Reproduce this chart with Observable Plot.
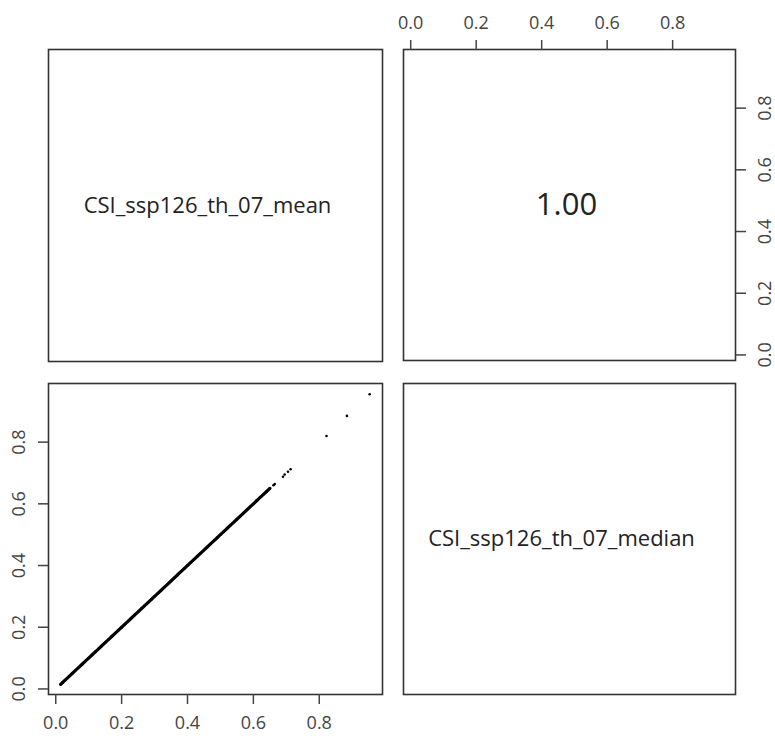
<!DOCTYPE html>
<html><head><meta charset="utf-8">
<script src="https://cdn.jsdelivr.net/npm/d3@7"></script>
<script src="https://cdn.jsdelivr.net/npm/@observablehq/plot@0.6"></script>
<style>
body{margin:0;background:#fff;}
#wrap{position:relative;width:775px;height:736px;}
#wrap svg{position:absolute;left:0;top:0;}
</style></head><body><div id="wrap"></div>
<script>
// variable names (diagonal panels)
const varNames = ["CSI_ssp126_th_07_mean", "CSI_ssp126_th_07_median"];
// correlation shown in upper panel
const corrText = "1.00";
// axis tick values
const tickValues = [0, 0.2, 0.4, 0.6, 0.8];
// scatter values (mean vs median)
const meanValues = [
  0.015, 0.02, 0.03, 0.04, 0.05, 0.06, 0.07, 0.08, 0.09, 0.10,
  0.11, 0.12, 0.13, 0.14, 0.15, 0.16, 0.17, 0.18, 0.19, 0.20,
  0.21, 0.22, 0.23, 0.24, 0.25, 0.26, 0.27, 0.28, 0.29, 0.30,
  0.31, 0.32, 0.33, 0.34, 0.35, 0.36, 0.37, 0.38, 0.39, 0.40,
  0.41, 0.42, 0.43, 0.44, 0.45, 0.46, 0.47, 0.48, 0.49, 0.50,
  0.51, 0.52, 0.53, 0.54, 0.55, 0.56, 0.57, 0.58, 0.59, 0.60,
  0.61, 0.62, 0.63, 0.64, 0.65,
  0.661, 0.665, 0.690, 0.695, 0.705, 0.713, 0.822, 0.884, 0.953
];
const medianValues = [
  0.015, 0.02, 0.03, 0.04, 0.05, 0.06, 0.07, 0.08, 0.09, 0.10,
  0.11, 0.12, 0.13, 0.14, 0.15, 0.16, 0.17, 0.18, 0.19, 0.20,
  0.21, 0.22, 0.23, 0.24, 0.25, 0.26, 0.27, 0.28, 0.29, 0.30,
  0.31, 0.32, 0.33, 0.34, 0.35, 0.36, 0.37, 0.38, 0.39, 0.40,
  0.41, 0.42, 0.43, 0.44, 0.45, 0.46, 0.47, 0.48, 0.49, 0.50,
  0.51, 0.52, 0.53, 0.54, 0.55, 0.56, 0.57, 0.58, 0.59, 0.60,
  0.61, 0.62, 0.63, 0.64, 0.65,
  0.660, 0.664, 0.688, 0.695, 0.704, 0.712, 0.820, 0.885, 0.955
];
const denseCount = 65;

const points = meanValues.map((m, i) => ({mean: m, median: medianValues[i]}));
const densePoints = points.slice(0, denseCount);

const W = 775, H = 736;
const xDomain = [-0.022, 0.992];
const yDomain = [-0.018, 0.99];
const FONT = "'Open Sans', sans-serif";
const fmt = d3.format(".1f");
const frameStyle = {stroke: "#333", strokeWidth: 1.6};
const tickOpts = {tickSize: 10, tickFormat: fmt, fontSize: 18, color: "#444", strokeWidth: 1.5, label: null};

function panel(margins, marks) {
  return Plot.plot({
    width: W, height: H,
    ...margins,
    x: {domain: xDomain, axis: null},
    y: {domain: yDomain, axis: null},
    style: {background: "transparent", fontFamily: FONT},
    marks
  });
}

const wrap = document.getElementById("wrap");

// top-left: variable name
wrap.appendChild(panel(
  {marginLeft: 48, marginRight: 393, marginTop: 49, marginBottom: 375},
  [
    Plot.frame(frameStyle),
    Plot.text([varNames[0]], {frameAnchor: "middle", text: d => d, fontSize: 22, fill: "#222", dx: -8})
  ]
));

// top-right: correlation with top and right axes
wrap.appendChild(panel(
  {marginLeft: 403, marginRight: 40, marginTop: 49, marginBottom: 376},
  [
    Plot.frame(frameStyle),
    Plot.axisX(tickValues, {anchor: "top", tickPadding: 11, ...tickOpts}),
    // right-side tick marks
    Plot.axisY(tickValues, {anchor: "right", ...tickOpts, tickFormat: () => ""}),
    // right-side tick labels (rotated)
    Plot.axisY(tickValues, {anchor: "right", ...tickOpts, tickSize: 0, tickPadding: 8, tickRotate: -90, dx: 27}),
    Plot.text([corrText], {frameAnchor: "middle", text: d => d, fontSize: 31, fill: "#222", dx: -3})
  ]
));

// bottom-left: scatter with left and bottom axes
wrap.appendChild(panel(
  {marginLeft: 48, marginRight: 393, marginTop: 383, marginBottom: 42},
  [
    Plot.frame(frameStyle),
    Plot.axisX(tickValues, {anchor: "bottom", tickPadding: 12, ...tickOpts}),
    Plot.axisY(tickValues, {anchor: "left", tickPadding: 14, tickRotate: -90, ...tickOpts}),
    Plot.line(densePoints, {x: "mean", y: "median", stroke: "#000", strokeWidth: 3.2}),
    Plot.dot(points, {x: "mean", y: "median", r: 1.3, fill: "#000", stroke: "none"})
  ]
));

// bottom-right: variable name
wrap.appendChild(panel(
  {marginLeft: 403, marginRight: 40, marginTop: 383, marginBottom: 42},
  [
    Plot.frame(frameStyle),
    Plot.text([varNames[1]], {frameAnchor: "middle", text: d => d, fontSize: 22, fill: "#222", dx: -8})
  ]
));
</script>
</body></html>
